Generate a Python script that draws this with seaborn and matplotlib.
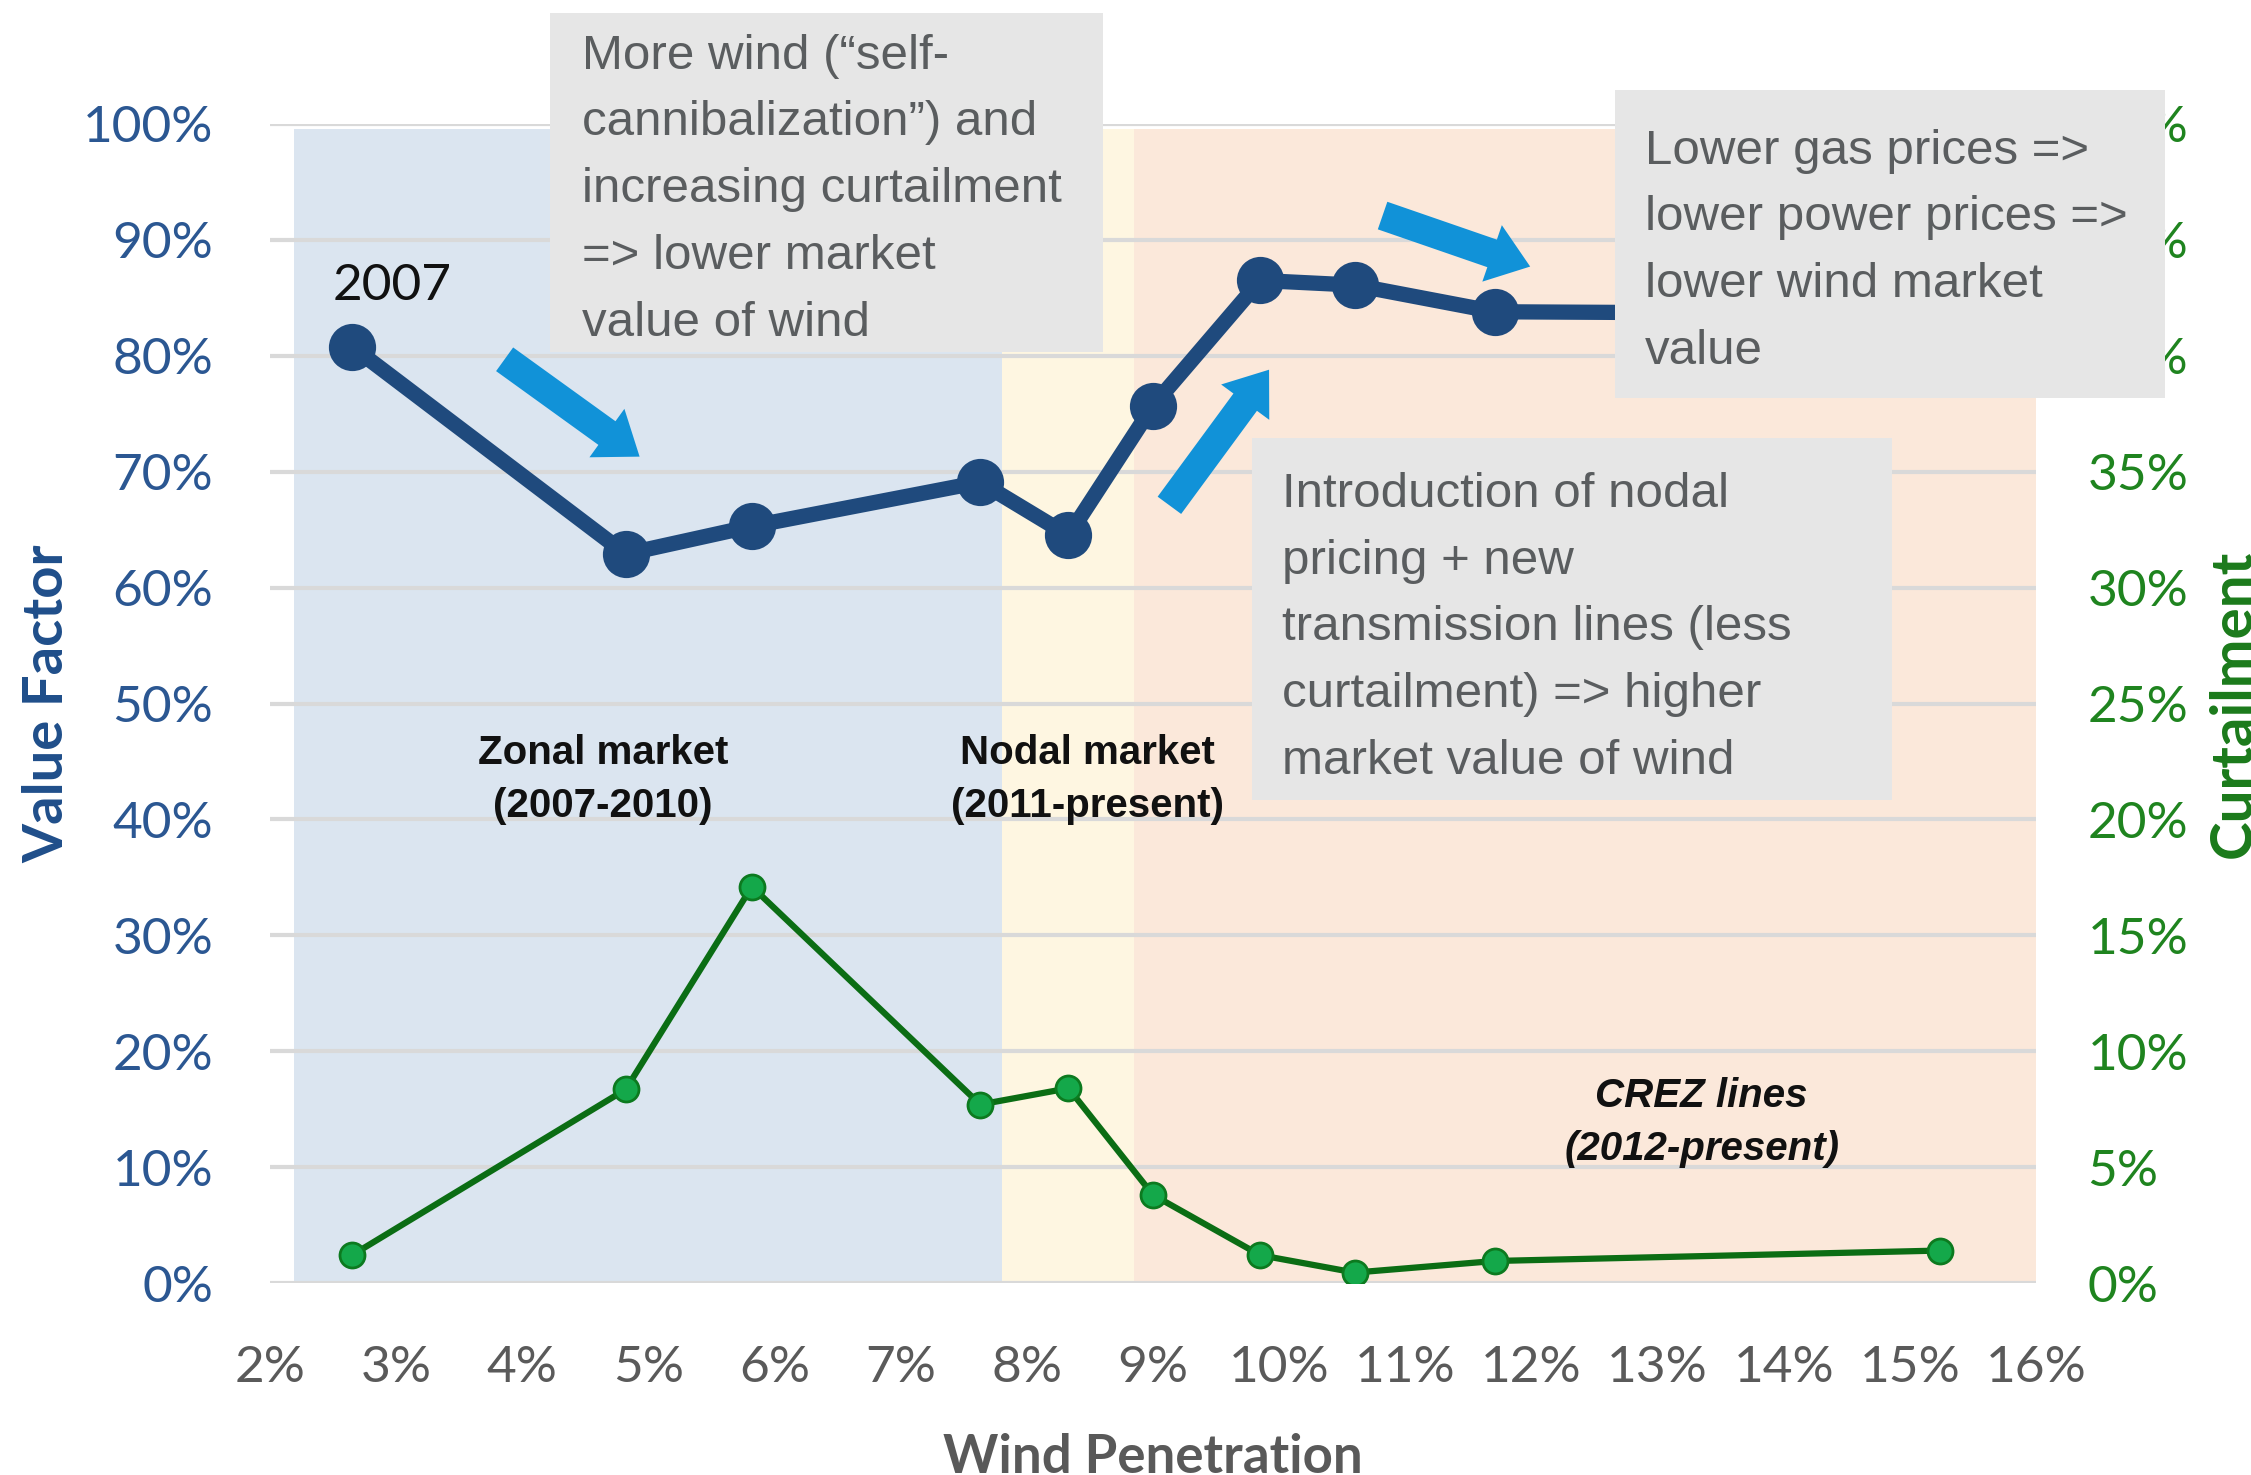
import matplotlib
matplotlib.use("Agg")
import matplotlib.pyplot as plt
import seaborn as sns
import pandas as pd
from matplotlib.patches import Rectangle
from matplotlib.ticker import FuncFormatter

# ---------------- data ----------------
penetration = [2.65, 4.82, 5.82, 7.63, 8.33, 9.00, 9.85, 10.60, 11.71, 15.24]
value_factor = [80.8, 62.9, 65.3, 69.1, 64.5, 75.7, 86.5, 86.1, 83.8, 83.6]
curtailment = [1.2, 8.35, 17.1, 7.7, 8.4, 3.8, 1.2, 0.45, 0.95, 1.4]

x_ticks = list(range(2, 17))
vf_ticks = list(range(0, 101, 10))
curt_ticks = list(range(0, 51, 5))

region_bounds = [(2.19, 7.80), (7.80, 8.85), (8.85, 16.04)]
region_colors = ["#dbe5f0", "#fef6e1", "#fbe8da"]

region_labels = ["Zonal market\n(2007-2010)", "Nodal market\n(2011-present)", "CREZ lines\n(2012-present)"]
region_label_x = [4.64, 8.48, 13.35]
region_label_y = [47.4, 47.4, 17.8]
region_label_style = ["normal", "normal", "italic"]

box_texts = [
    "More wind (\u201cself-\ncannibalization\u201d) and\nincreasing curtailment\n=> lower market\nvalue of wind",
    "Lower gas prices =>\nlower power prices =>\nlower wind market\nvalue",
    "Introduction of nodal\npricing + new\ntransmission lines (less\ncurtailment) => higher\nmarket value of wind",
]
box_rects = [(4.22, 80.3, 8.60, 109.6), (12.66, 76.4, 17.02, 102.9), (9.785, 41.7, 14.86, 72.9)]
box_text_xy = [(4.47, 107.8), (12.90, 99.6), (10.02, 70.0)]

arrows = [((3.86, 79.7), (4.93, 71.3)), ((9.13, 67.1), (9.92, 78.8)), ((10.82, 92.1), (11.99, 87.7))]

df = pd.DataFrame({"penetration": penetration, "value_factor": value_factor,
                   "curtailment": curtailment})

# ---------------- style ----------------
sns.set_style("white")
SANS = ["Liberation Sans", "DejaVu Sans"]
LATO = ["Lato", "DejaVu Sans"]
plt.rcParams["font.family"] = SANS

NAVY = "#1f4a7d"
BLUE_TXT = "#2b5792"
GREEN_TXT = "#1f841f"
GRAY_TXT = "#5a5a5a"
ARROW = "#1192d8"
BOX = "#e6e6e6"
BOX_TXT = "#5a5d5f"

W, H = 2251, 1475
fig = plt.figure(figsize=(W / 100, H / 100), dpi=100)
fig.patch.set_facecolor("white")
ax = fig.add_axes([270 / W, 1 - 1283 / H, 1766 / W, 1159 / H])
ax2 = ax.twinx()

# shaded market regions
for (lo, hi), c in zip(region_bounds, region_colors):
    ax.axvspan(lo, hi, ymin=0, ymax=0.996, color=c, lw=0, zorder=0.2)

# value factor line
sns.lineplot(data=df, x="penetration", y="value_factor", ax=ax, color=NAVY,
             linewidth=11, marker="o", markersize=34, markeredgewidth=0,
             zorder=5, legend=False)

# curtailment line
sns.lineplot(data=df, x="penetration", y="curtailment", ax=ax2, color="#0b6d14",
             linewidth=4.5, marker="o", markersize=18, markerfacecolor="#14a84a",
             markeredgecolor="#0c7a1f", markeredgewidth=2, zorder=5, legend=False)

# axes limits / ticks
ax.set_xlim(2, 16)
ax.set_ylim(0, 100)
ax2.set_ylim(0, 50)
ax.set_xticks(x_ticks)
ax.set_yticks(vf_ticks)
ax2.set_yticks(curt_ticks)
pct = FuncFormatter(lambda v, p: f"{v:.0f}%")
ax.xaxis.set_major_formatter(pct)
ax.yaxis.set_major_formatter(pct)
ax2.yaxis.set_major_formatter(pct)

ax.set_axisbelow(True)
ax.yaxis.grid(True, color="#d9d9d9", linewidth=3)
ax.xaxis.grid(False)
ax2.grid(False)
for a in (ax, ax2):
    for s in a.spines.values():
        s.set_visible(False)

ax.tick_params(axis="x", length=0, pad=45, labelsize=37, labelcolor=GRAY_TXT,
               labelfontfamily=LATO)
ax.tick_params(axis="y", length=0, pad=41, labelsize=37, labelcolor=BLUE_TXT,
               labelfontfamily=LATO)
ax2.tick_params(axis="y", length=0, pad=37, labelsize=37, labelcolor=GREEN_TXT,
                labelfontfamily=LATO)

ax.set_xlabel("Wind Penetration", fontsize=38, fontweight="bold", color="#595959",
              family=LATO, va="baseline")
ax.xaxis.set_label_coords(0.5, -0.164)
ax.set_ylabel("Value Factor", fontsize=40.5, fontweight="bold", color="#1f4e8a",
              family=LATO, va="center")
ax.yaxis.set_label_coords(-0.1263, 0.5)
ax2.set_ylabel("Curtailment", fontsize=42, fontweight="bold", color="#1b7a1b",
               family=LATO, va="center", rotation=90)
ax2.yaxis.set_label_coords(1.112, 0.5)

# annotations (drawn on ax2 so they sit above everything, in ax data coords)
T = ax.transData
ax2.text(2.97, 84.8, "2007", transform=T, fontsize=37, family=LATO, color="#111111",
         ha="center", va="baseline", zorder=8)

for s, x, y, st in zip(region_labels, region_label_x, region_label_y, region_label_style):
    ax2.text(x, y, s, transform=T, fontsize=29, family=SANS, fontweight="bold",
             fontstyle=st, color="#111111", ha="center", va="top",
             linespacing=1.5, zorder=8)

for (tail, head) in arrows:
    ax2.annotate("", xy=head, xytext=tail, xycoords=T, textcoords=T,
                 arrowprops=dict(arrowstyle="simple,head_width=4.3,head_length=2.9,tail_width=2.1",
                                 mutation_scale=10, color=ARROW, lw=0,
                                 shrinkA=0, shrinkB=0),
                 zorder=9, annotation_clip=False)

for (x0, y0, x1, y1), s, (tx, ty) in zip(box_rects, box_texts, box_text_xy):
    ax2.add_artist(Rectangle((x0, y0), x1 - x0, y1 - y0, transform=T, facecolor=BOX,
                             edgecolor="none", zorder=20, clip_on=False))
    ax2.text(tx, ty, s, transform=T, fontsize=35.5, family=SANS, color=BOX_TXT,
             ha="left", va="top", linespacing=1.623, zorder=21)

fig.savefig("out.png", dpi=100, facecolor="white")
